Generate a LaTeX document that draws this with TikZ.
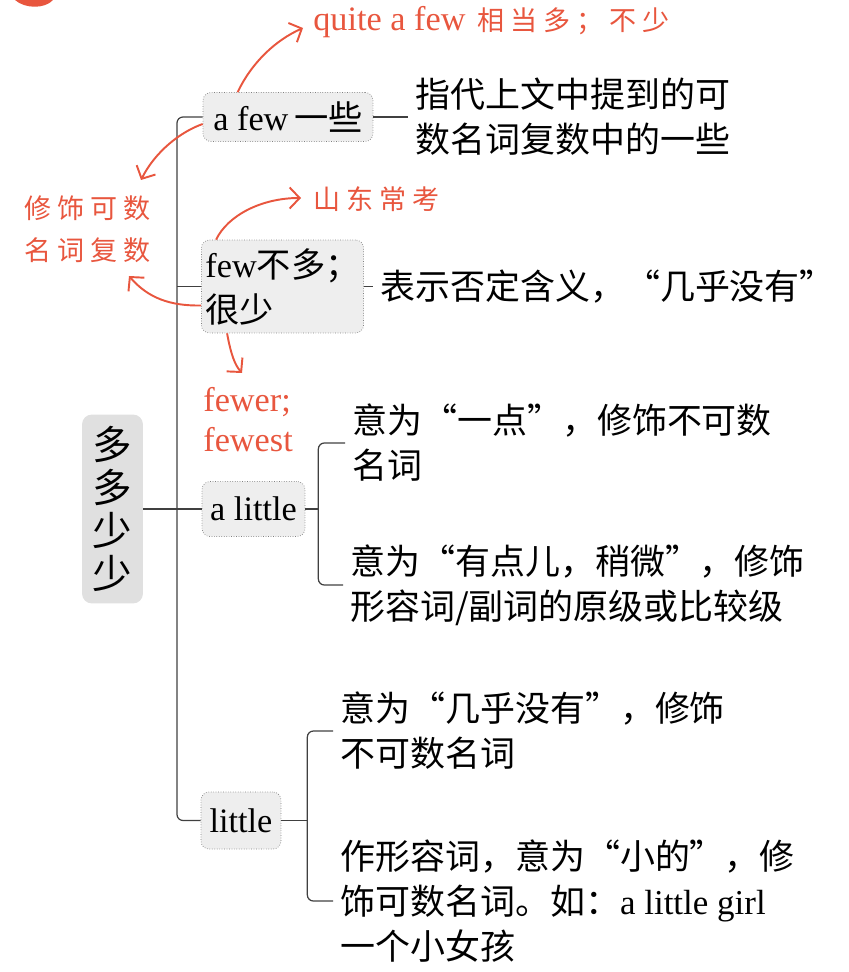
\documentclass[tikz,border=0pt]{standalone}
\usepackage{fontspec}
\setmainfont{Liberation Serif}
\newfontfamily\cjk{Noto Sans CJK SC}
\newfontfamily\hand[LetterSpace=22]{Noto Sans CJK SC}
\usetikzlibrary{
    arrows.meta,
    calc
}
\tikzset{
  wbox/.style  = {draw=gray, densely dotted, fill=boxGray, rounded corners=0.16cm,
                  inner sep=0.08cm, font=\fontsize{19.5}{25.6}\selectfont},
  rbox/.style  = {fill=rootGray, rounded corners=0.2cm, minimum width=1.22cm,
                  minimum height=3.78cm, align=center, font=\cjk\fontsize{22.5}{24.5}\selectfont},
  desc/.style  = {anchor=west, inner xsep=0.14cm, inner ysep=0pt, align=left,
                  font=\cjk\fontsize{19.9}{25.6}\selectfont},
  note/.style  = {anchor=west, inner sep=0pt, align=left, text=hintRed,
                  font=\hand\fontsize{15.4}{23.9}\selectfont},
  conn/.style  = {draw=black!75, line width=0.7pt},
  hint/.style  = {-{Straight Barb[length=0.2cm,width=0.42cm]}, hintRed, line width=1.1pt}
}
\definecolor{hintRed}{RGB}{232,86,62}
\definecolor{boxGray}{RGB}{238,238,238}
\definecolor{rootGray}{RGB}{224,224,224}

\begin{document}
\begin{tikzpicture}[x=0.02cm, y=-0.02cm]
    \useasboundingbox (0,0) rectangle (848,972);
    \fill[hintRed] (15,0) .. controls (25,9) and (45,9) .. (53,0) -- cycle;

    \node[rbox] (root) at (112.5,509) {多\\多\\少\\少};
    \node[wbox, minimum width=3.4cm, minimum height=0.98cm] (afew) at (288,117) {a few\,{\cjk 一些}};
    \node[wbox, minimum width=3.18cm, minimum height=1.86cm, align=left] (few) at (282.5,286.5) {few{\cjk 不多；}\\{\cjk 很少}};
    \node[wbox, minimum width=2.06cm, minimum height=1.1cm] (alittle) at (253.5,509) {a little};
    \node[wbox, minimum width=1.6cm, minimum height=1.14cm] (little) at (241,820.5) {little};

    \node[desc] (t1) at (408,117) {指代上文中提到的可\\数名词复数中的一些};
    \node[desc] (t2) at (373,286.5) {表示否定含义，“几乎没有”};
    \node[desc] (t3) at (345,443) {意为“一点”，修饰不可数\\名词};
    \node[desc] (t4) at (343,585) {意为“有点儿，稍微”，修饰\\形容词/副词的原级或比较级};
    \node[desc] (t5) at (333,731) {意为“几乎没有”，修饰\\不可数名词};
    \node[desc] (t6) at (333,901) {作形容词，意为“小的”，修\\饰可数名词。如：{\rmfamily a little girl}\\一个小女孩};

    \node[note] (lq) at (313,22) {{\rmfamily\fontsize{19.5}{22}\selectfont quite a few} 相当多；不少};
    \node[note] (lmod) at (24,229) {修饰可数\\名词复数};
    \node[note] (lsd) at (313,199) {山东常考};
    \node[note, font=\rmfamily\fontsize{19.5}{22.8}\selectfont] (lfewer) at (203,420) {fewer;\\fewest};

    \coordinate (trunk) at (177,509);
    \draw[conn, rounded corners=0.12cm] (afew.west) -| (trunk) |- (little.west);
    \draw[conn] (few.west) -- (few.west -| trunk);
    \draw[conn] (root.east) -- (alittle.west);

    \draw[conn] (afew.east) -- (t1.west);
    \draw[conn] (few.east) -- (t2.west);
    \draw[conn] (alittle.east) -- ++(13,0) coordinate (alb);
    \draw[conn, rounded corners=0.12cm] (t3.west) -| (alb) |- (t4.west);
    \draw[conn] (little.east) -- ++(26,0) coordinate (lb);
    \draw[conn, rounded corners=0.12cm] (t5.west) -| (lb) |- (t6.west);

    \coordinate (qtip) at (303,28);
    \coordinate (mtip1) at (141,180);
    \coordinate (mtip2) at (129,276);
    \coordinate (stip) at (301,198);
    \coordinate (ftip) at (242,373);
    \draw[hint] ([xshift=0.7cm]afew.north west) .. controls (252,62) and (276,40) .. (qtip);
    \draw[hint] ([yshift=-0.14cm]afew.west) .. controls (180,132) and (155,152) .. (mtip1);
    \draw[hint] ([yshift=-0.38cm]few.west) .. controls (170,306) and (148,298) .. (mtip2);
    \draw[hint] ([xshift=0.3cm]few.north west) .. controls (228,215) and (262,198) .. (stip);
    \draw[hint] ([xshift=0.52cm]few.south west) .. controls (231,355) and (235,365) .. (ftip);
\end{tikzpicture}
\end{document}
